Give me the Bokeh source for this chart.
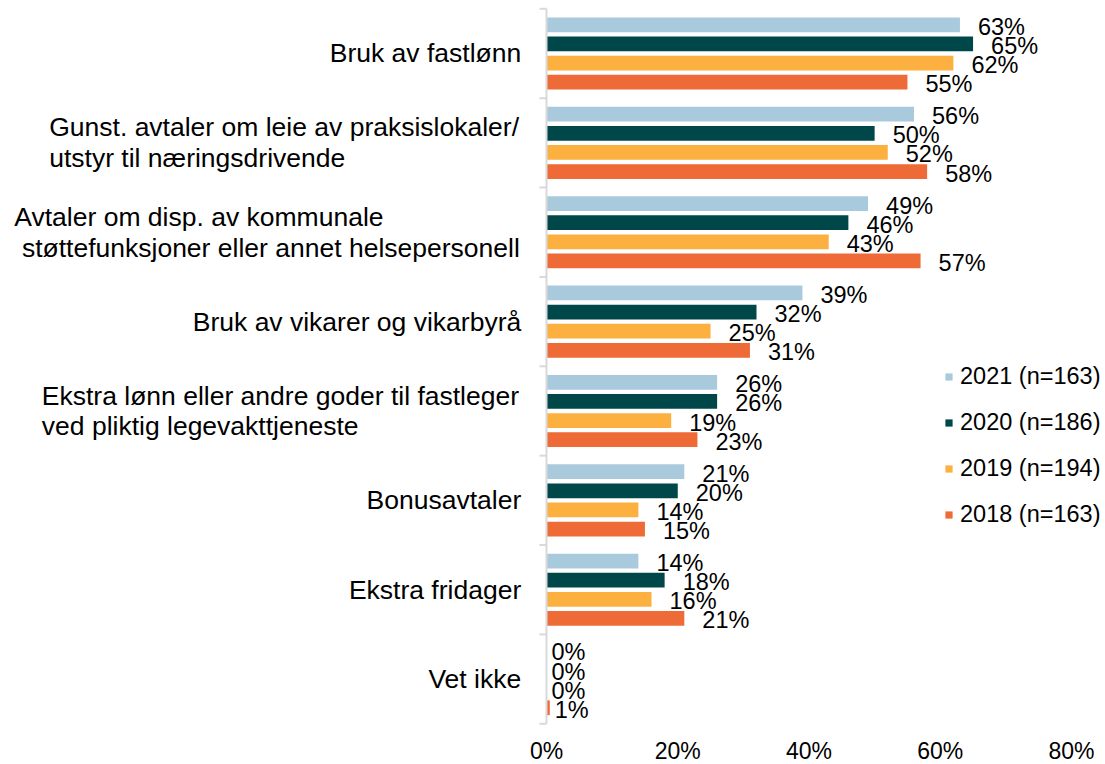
import math
from bokeh.plotting import figure
from bokeh.models import Range1d, Legend, LegendItem, ColumnDataSource
from bokeh.core.properties import value
from bokeh.embed import file_html
from bokeh.resources import INLINE

# ---------------- data ----------------
category_lines = [
    ["Bruk av fastlønn"],
    ["Gunst. avtaler om leie av praksislokaler/", "utstyr til næringsdrivende"],
    ["Avtaler om disp. av kommunale", "støttefunksjoner eller annet helsepersonell"],
    ["Bruk av vikarer og vikarbyrå"],
    ["Ekstra lønn eller andre goder til fastleger", "ved pliktig legevakttjeneste"],
    ["Bonusavtaler"],
    ["Ekstra fridager"],
    ["Vet ikke"],
]
series_names = ["2021 (n=163)", "2020 (n=186)", "2019 (n=194)", "2018 (n=163)"]
v2021 = [63, 56, 49, 39, 26, 21, 14, 0]
v2020 = [65, 50, 46, 32, 26, 20, 18, 0]
v2019 = [62, 52, 43, 25, 19, 14, 16, 0]
v2018 = [55, 58, 57, 31, 23, 15, 21, 0.5]
x_ticks = [0, 20, 40, 60, 80]

colors = ["#A8CADC", "#00474A", "#FBB040", "#EE6A37"]
series_values = [v2021, v2020, v2019, v2018]

FONT = "Liberation Sans"
n_cat = len(category_lines)

# ---------------- layout constants (pixels) ----------------
W, H = 1105, 764
axis_px = 546.0          # x position of the value axis (0 %)
px_per_unit = 6.5625     # pixels per percentage point
cat_top, cat_bottom = 8.3, 723.3
px_per_cat = (cat_bottom - cat_top) / n_cat

x_start = -axis_px / px_per_unit
x_end = (W - axis_px) / px_per_unit
y_top = -cat_top / px_per_cat
y_bottom = n_cat + (H - cat_bottom) / px_per_cat

p = figure(width=W, height=H, output_backend="svg", toolbar_location=None,
           x_range=Range1d(x_start, x_end), y_range=Range1d(y_bottom, y_top),
           x_axis_location=None, y_axis_location=None,
           min_border=0, min_border_left=0, min_border_right=0,
           min_border_top=0, min_border_bottom=0)
p.outline_line_color = None
p.xgrid.visible = False
p.ygrid.visible = False
p.background_fill_color = "white"
p.border_fill_color = "white"

# ---------------- bars + data labels ----------------
pitch = 0.2137
bar_h = 0.165
legend_items = []
for j, (name, vals, col) in enumerate(zip(series_names, series_values, colors)):
    ys = [i + 0.5 + (j - 1.5) * pitch for i in range(n_cat)]
    labels = [f"{int(v + 0.5)}%" for v in vals]
    xoff = [5 + 13 * (len(t) - 2) for t in labels]
    src = ColumnDataSource(dict(y=ys, x=vals, text=labels, xoff=xoff))
    r = p.hbar(y="y", right="x", left=0, height=bar_h, source=src,
               fill_color=col, line_color=None)
    p.text(x="x", y="y", text="text", x_offset="xoff", y_offset=2, source=src,
           text_align="left", text_baseline="middle",
           text_font=value(FONT), text_font_size="23.5px", text_color="#000000")
    legend_items.append(LegendItem(label=name, renderers=[r]))

# ---------------- category axis (line + separators) ----------------
p.segment(x0=[0], y0=[0], x1=[0], y1=[n_cat], line_color="#D9D9D9", line_width=2)
p.ray(x=[0] * (n_cat + 1), y=list(range(n_cat + 1)), length=7,
      length_units="screen", angle=math.pi, line_color="#D9D9D9", line_width=2)

# ---------------- value axis tick labels ----------------
p.text(x=x_ticks, y=[n_cat] * len(x_ticks), text=[f"{t}%" for t in x_ticks],
       y_offset=27, text_align="center", text_baseline="middle",
       text_font=value(FONT), text_font_size="23px", text_color="#000000")

# ---------------- category labels ----------------
cat_font = "26.5px"
line_gap = 0.172
layout_specs = {
    1: [("left", -497.3), ("left", -497.3)],
    2: [("left", -532.2), ("right", -26.7)],
    4: [("left", -504.7), ("left", -504.7)],
}
lx, ly, lt, loff, lal = [], [], [], [], []
for i, lines in enumerate(category_lines):
    if len(lines) == 1:
        lx.append(0); ly.append(i + 0.5); lt.append(lines[0])
        loff.append(-25.3); lal.append("right")
    else:
        for k, line in enumerate(lines):
            align, off = layout_specs[i][k]
            lx.append(0)
            ly.append(i + 0.5 + (-line_gap if k == 0 else line_gap))
            lt.append(line); loff.append(off); lal.append(align)
cat_src = ColumnDataSource(dict(x=lx, y=ly, text=lt, off=loff, align=lal))
p.text(x="x", y="y", text="text", x_offset="off", text_align="align",
       text_baseline="middle", source=cat_src,
       text_font=value(FONT), text_font_size=cat_font, text_color="#000000")

# ---------------- legend ----------------
legend = Legend(items=legend_items, location=(944, 236), orientation="vertical",
                label_text_font=FONT, label_text_font_size="23.5px",
                label_text_color="#000000", glyph_width=9, glyph_height=9,
                label_height=27, spacing=19, padding=0, margin=0,
                label_standoff=7, border_line_color=None,
                background_fill_alpha=0)
p.add_layout(legend)

open("out.html", "w").write(file_html(p, INLINE))
